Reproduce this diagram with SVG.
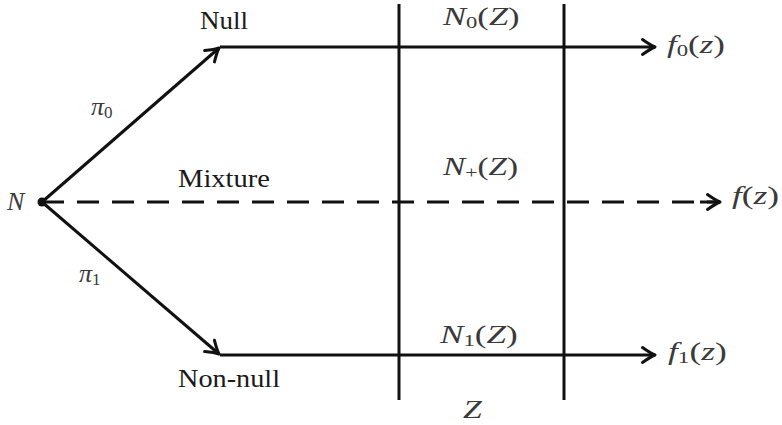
<svg xmlns="http://www.w3.org/2000/svg" width="782" height="425" viewBox="0 0 782 425">
<defs>
<style>
.ln{stroke:#111;stroke-width:3;fill:none}
.dash{stroke-dasharray:22 13}
.rm{font-family:"Liberation Serif","Times New Roman",serif;font-size:25px;fill:#1a1a1a}
.mi{font-family:"Liberation Serif","Times New Roman",serif;font-size:26px;font-style:italic;fill:#3a3a3a}
.up{font-style:normal}
.sb{font-size:17px;font-style:normal}
</style>
<marker id="ah" markerUnits="userSpaceOnUse" viewBox="-16 -10 18 20" markerWidth="18" markerHeight="20" refX="0" refY="0" orient="auto">
<path d="M-12.5,-7.5 Q-4.5,-1.8 0,0 Q-4.5,1.8 -12.5,7.5" fill="none" stroke="#111" stroke-width="3" stroke-linecap="round" stroke-linejoin="round"/>
</marker>
</defs>
<rect width="782" height="425" fill="#fff"/>
<g id="connectors">
<line class="ln" x1="42" y1="202" x2="219" y2="48" marker-end="url(#ah)"/>
<line class="ln" x1="42" y1="202" x2="219" y2="354" marker-end="url(#ah)"/>
<line class="ln" x1="220" y1="47" x2="655" y2="47" marker-end="url(#ah)"/>
<line class="ln" x1="220" y1="355" x2="655" y2="355" marker-end="url(#ah)"/>
<line class="ln dash" x1="42" y1="202" x2="720" y2="202"/>
<line class="ln" x1="700" y1="202" x2="720" y2="202" marker-end="url(#ah)"/>
<line class="ln" x1="399" y1="4" x2="399" y2="400"/>
<line class="ln" x1="564" y1="4" x2="564" y2="400"/>
</g>
<g id="node-N">
<circle cx="42" cy="202" r="4.5" fill="#111"/>
<text class="mi" x="7" y="210">N</text>
</g>
<g id="node-null"><text class="rm" x="200" y="29" textLength="48" lengthAdjust="spacingAndGlyphs">Null</text></g>
<g id="node-mixture"><text class="rm" x="178" y="187" textLength="92" lengthAdjust="spacingAndGlyphs">Mixture</text></g>
<g id="node-nonnull"><text class="rm" x="178" y="387" textLength="102" lengthAdjust="spacingAndGlyphs">Non-null</text></g>
<g id="label-pi0"><text class="mi" x="91" y="115">π<tspan class="sb" dy="3">0</tspan></text></g>
<g id="label-pi1"><text class="mi" x="79" y="282">π<tspan class="sb" dy="3">1</tspan></text></g>
<g id="label-N0"><text class="mi" transform="translate(443,25) scale(1.33,1)">N<tspan class="sb" dy="3">0</tspan><tspan class="up" dy="-3">(</tspan>Z<tspan class="up">)</tspan></text></g>
<g id="label-Nplus"><text class="mi" transform="translate(443,175) scale(1.28,1)">N<tspan class="sb" dy="3">+</tspan><tspan class="up" dy="-3">(</tspan>Z<tspan class="up">)</tspan></text></g>
<g id="label-N1"><text class="mi" transform="translate(440,343) scale(1.35,1)">N<tspan class="sb" dy="3">1</tspan><tspan class="up" dy="-3">(</tspan>Z<tspan class="up">)</tspan></text></g>
<g id="label-Z"><text class="mi" transform="translate(463,418) scale(1.3,1)">Z</text></g>
<g id="node-f0"><text class="mi" transform="translate(667,53) scale(1.34,1)">f<tspan class="sb" dy="3">0</tspan><tspan class="up" dy="-3">(</tspan>z<tspan class="up">)</tspan></text></g>
<g id="node-f"><text class="mi" transform="translate(732,204) scale(1.36,1)">f<tspan class="up">(</tspan>z<tspan class="up">)</tspan></text></g>
<g id="node-f1"><text class="mi" transform="translate(668,360) scale(1.36,1)">f<tspan class="sb" dy="3">1</tspan><tspan class="up" dy="-3">(</tspan>z<tspan class="up">)</tspan></text></g>
</svg>
